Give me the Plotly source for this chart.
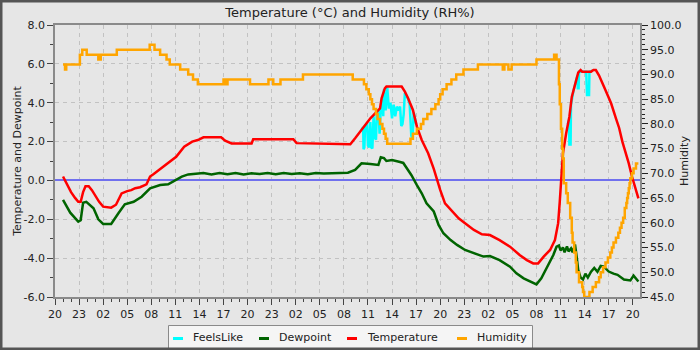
import plotly.graph_objects as go

# time axis: hours since 20:00 on day 1
tick_hours = list(range(0, 73, 3))
tick_labels = ["20", "23", "02", "05", "08", "11", "14", "17",
               "20", "23", "02", "05", "08", "11", "14", "17",
               "20", "23", "02", "05", "08", "11", "14", "17", "20"]

temp_t = [1.0, 1.5, 2.0, 2.5, 2.9, 3.2, 3.5, 3.8, 4.2, 4.6, 5.0, 5.5, 6.0, 7.0, 7.6, 8.0,
          8.3, 9.0, 9.5, 10.0, 10.6, 11.4, 11.85, 12.3, 13.0, 13.9, 15.1, 16.1, 17.1, 17.8,
          18.5, 20.7, 21.2, 22.0, 24.5, 24.7, 29.7, 30.1, 32.4, 36.8, 37.4, 38.0, 38.6,
          39.3, 39.9, 40.5, 40.7, 41.1, 41.3, 43.2, 43.6, 44.0, 44.6, 45.1, 45.7, 46.5,
          47.2, 47.6, 48.0, 48.6, 49.5, 50.3, 51.1, 52.2, 53.2, 54.2, 55.4, 56.7, 57.9,
          58.8, 59.6, 60.2, 60.9, 61.7, 62.3, 62.7, 62.9, 63.1, 63.3, 63.7, 64.1, 64.4,
          64.9, 65.2, 65.5, 65.7, 66.8, 67.1, 67.4, 67.8, 68.4, 69.3, 69.9, 70.3, 70.7,
          71.1, 71.5, 71.9, 72.3, 72.7]
temp_v = [0.2, -0.2, -0.6, -0.9, -1.1, -1.1, -0.6, -0.3, -0.3, -0.5, -0.8, -1.1, -1.35, -1.4, -1.25, -0.9,
          -0.67, -0.55, -0.5, -0.4, -0.35, -0.2, 0.2, 0.33, 0.55, 0.8, 1.22, 1.74, 2.0, 2.08,
          2.22, 2.22, 2.05, 1.9, 1.9, 2.12, 2.12, 1.92, 1.9, 1.86, 2.17, 2.51, 2.85,
          3.2, 3.45, 3.71, 4.23, 4.74, 4.83, 4.83, 4.57, 4.23, 3.63, 2.77, 2.08, 1.4,
          0.6, 0.0, -0.49, -1.18, -1.6, -1.95, -2.2, -2.55, -2.77, -2.81, -3.07, -3.41, -3.84,
          -4.1, -4.27, -4.27, -3.92, -3.58, -3.07, -2.2, -1.1, 0.2, 1.4, 2.43, 3.28, 4.3,
          5.17, 5.55, 5.68, 5.6, 5.6, 5.68, 5.68, 5.4, 4.83, 3.97, 3.2, 2.7, 2.0,
          1.48, 0.88, 0.2, -0.4, -0.92]

dew_t = [1.0, 1.9, 2.9, 3.2, 3.5, 3.9, 4.8, 5.4, 6.0, 7.0, 7.9, 8.7, 9.8, 10.8, 11.85,
         13.1, 14.1, 15.0, 15.8, 16.6, 17.5, 18.5, 19.5, 20.5, 21.5, 22.5, 23.5, 24.5,
         25.5, 26.5, 27.5, 28.5, 29.5, 30.5, 31.5, 32.5, 33.5, 34.5, 35.5, 36.5, 37.4,
         38.2, 39.3, 40.3, 40.6, 41.0, 41.3, 42.0, 43.0, 43.4, 43.8, 44.4, 45.1, 45.7,
         46.3, 47.2, 47.8, 48.4, 49.3, 50.1, 51.1, 52.2, 53.4, 54.2, 55.4, 56.7, 57.5,
         58.4, 59.2, 60.0, 60.6, 61.4, 62.1, 62.5, 62.8, 63.0, 63.3, 63.5, 63.8, 64.0,
         64.3, 64.5, 64.8, 65.0, 65.2, 65.5, 65.8, 66.1, 66.4, 66.8, 67.2, 67.6, 68.0,
         68.4, 69.0, 69.6, 70.1, 70.9, 71.7, 72.1, 72.7]
dew_v = [-1.0, -1.66, -2.12, -2.05, -1.15, -1.1, -1.43, -2.0, -2.24, -2.24, -1.69, -1.23, -1.1, -0.84, -0.41,
         -0.24, -0.2, 0.0, 0.2, 0.31, 0.33, 0.38, 0.3, 0.38, 0.32, 0.38, 0.3, 0.37,
         0.33, 0.38, 0.32, 0.38, 0.33, 0.37, 0.32, 0.38, 0.36, 0.38, 0.38, 0.4, 0.54,
         0.88, 0.85, 0.8, 1.19, 1.15, 1.0, 1.05, 0.95, 0.9, 0.65, 0.28, -0.24, -0.66,
         -1.18, -1.6, -2.29, -2.72, -3.07, -3.32, -3.58, -3.75, -3.92, -3.89, -4.1, -4.44, -4.78,
         -5.04, -5.21, -5.35, -5.04, -4.44, -3.84, -3.41, -3.35, -3.6, -3.45, -3.7, -3.4, -3.65,
         -3.5, -3.7, -3.3, -3.9, -4.6, -5.0, -5.1, -4.8, -5.0, -4.7, -4.5, -4.7, -4.4,
         -4.44, -4.69, -4.8, -4.86, -5.1, -5.15, -4.9, -5.2]

hum_t = [1.0, 1.25, 1.4, 3.1, 3.4, 3.95, 5.4, 5.7, 7.7, 11.8, 12.4, 13.1, 13.9, 14.3,
         15.6, 16.6, 17.2, 17.8, 21.0, 21.3, 21.5, 22.0, 24.3, 26.6, 27.2, 28.1, 30.9,
         37.1, 38.5, 38.8, 39.1, 39.3, 39.5, 39.7, 40.0, 40.2, 40.5, 40.8, 41.0, 41.2, 41.4,
         44.3, 44.6, 45.1, 45.6, 45.9, 46.4, 46.9, 47.4, 47.8, 48.0, 48.3, 48.8, 49.4, 50.0,
         50.9, 52.7, 55.8, 56.0, 56.5, 56.9, 60.0, 62.2, 62.5, 62.8, 62.9, 63.05, 63.2,
         63.3, 63.4, 63.7, 63.9, 64.2, 64.4, 64.5, 64.7, 64.9, 65.0, 65.3, 65.7, 65.8, 65.95,
         66.6, 67.0, 67.4, 67.8, 68.0, 68.3, 68.6, 68.9, 69.2, 69.4, 69.6, 69.9, 70.2, 70.4,
         70.6, 70.8, 71.0, 71.2, 71.3, 71.4, 71.5, 71.6, 71.7, 71.9, 72.1, 72.4, 72.7]
hum_v = [92, 91, 92, 94, 95, 94, 93, 94, 95, 96, 95, 94, 93, 92,
         91, 90, 89, 88, 89, 88, 89, 89, 88, 89, 88, 89, 90,
         89, 88, 87, 86, 85, 84, 83, 82, 81, 80, 79, 78, 77, 76,
         77, 78, 79, 80, 81, 82, 83, 84, 85, 86, 87, 88, 89, 90,
         91, 92, 91, 92, 91, 92, 93, 94, 93, 88, 84, 79, 75,
         73, 68, 66, 64, 61, 58, 56, 54, 52, 50, 48, 47, 46, 45,
         46, 47, 48, 49, 50, 51, 52, 53, 54, 55, 56, 57, 58, 59,
         60, 61, 63, 64, 65, 66, 67, 68, 69, 70, 71, 72, 72]

# FeelsLike where it departs from temperature (elsewhere identical, hidden under it)
feels_t = [38.2, 38.4, 38.45, 38.55, 38.65, 38.9, 39.0, 39.15, 39.3, 39.4, 39.55, 39.7,
           39.85, 40.0, 40.1, 40.3, 40.45, 40.6, 40.8, 40.9, 41.0, 41.2, 41.4, 41.6, 41.8,
           42.0, 42.2, 42.4, 42.6, 42.8, 43.0, 43.15, 43.3, 43.45, 43.6, 43.8, 44.0, 44.2,
           44.4, 44.55, 44.7, 45.0,
           None,
           63.9, 64.05, 64.1, 64.25, 64.3, 64.6, 65.1, 65.15, 65.25, 65.3, 66.2, 66.3,
           66.55, 66.6, 67.0]
feels_v = [2.6, 2.75, 1.6, 1.7, 2.8, 2.95, 1.8, 1.7, 3.0, 1.7, 1.65, 3.3,
           2.2, 2.1, 3.55, 3.6, 2.4, 3.7, 4.2, 3.3, 4.7, 3.6, 4.8, 3.7, 4.0,
           3.2, 3.9, 3.3, 3.8, 3.6, 3.8, 2.8, 2.9, 3.4, 4.5, 4.35, 4.2, 3.9,
           2.3, 2.1, 3.5, 2.9,
           None,
           2.9, 3.1, 1.85, 1.85, 3.9, 4.6, 5.4, 4.75, 4.75, 5.6, 5.6, 4.4,
           4.4, 5.6, 5.65]

left_ticks = [-6, -4, -2, 0, 2, 4, 6, 8]
left_labels = ["-6.0", "-4.0", "-2.0", "0.0", "2.0", "4.0", "6.0", "8.0"]
right_ticks = [45, 50, 55, 60, 65, 70, 75, 80, 85, 90, 95, 100]

series_names = ["FeelsLike", "Dewpoint", "Temperature", "Humidity"]
series_colors = ["#00ffff", "#006400", "#ff0000", "#ffa500"]

FONT = "DejaVu Sans"
TXT = "#222222"
GRID = "#c2c2c2"
AXIS = "#8a8a8a"

W, H = 700, 350
ml, mr, mt, mb = 55, 60, 25, 53
pw, ph = W - ml - mr, H - mt - mb


def px(x):
    return (x - ml) / pw


def py(y):
    return (H - mb - y) / ph


fig = go.Figure()
fig.add_trace(go.Scatter(x=feels_t, y=feels_v, name=series_names[0], mode="lines",
                         line=dict(color=series_colors[0], width=2.5), connectgaps=False))
fig.add_trace(go.Scatter(x=dew_t, y=dew_v, name=series_names[1], mode="lines",
                         line=dict(color=series_colors[1], width=2.5)))
fig.add_trace(go.Scatter(x=temp_t, y=temp_v, name=series_names[2], mode="lines",
                         line=dict(color=series_colors[2], width=2.5)))
fig.add_trace(go.Scatter(x=hum_t, y=hum_v, name=series_names[3], mode="lines", yaxis="y2",
                         line=dict(color=series_colors[3], width=2.5, shape="hv")))

# legend drawn as a box with short line keys
shapes = [dict(type="rect", xref="paper", yref="paper",
               x0=px(168.5), x1=px(532.5), y0=py(350), y1=py(325.5),
               line=dict(color="#8a8a8a", width=1), fillcolor="#f5f5f5", layer="above")]
annotations = []
key_x = [173, 259, 347, 457]
text_x = [193, 279, 367, 477]
for i, name in enumerate(series_names):
    shapes.append(dict(type="line", xref="paper", yref="paper",
                       x0=px(key_x[i]), x1=px(key_x[i] + 10), y0=py(338.5), y1=py(338.5),
                       line=dict(color=series_colors[i], width=3), layer="above"))
    annotations.append(dict(text=name, xref="paper", yref="paper", x=px(text_x[i] - 1),
                            y=py(337.5), xanchor="left", yanchor="middle", showarrow=False,
                            font=dict(size=11, color=TXT, family=FONT), borderpad=0))
# outer frame
shapes.append(dict(type="rect", xref="paper", yref="paper",
                   x0=px(0), x1=px(W), y0=py(H), y1=py(0),
                   line=dict(color="#555555", width=5), fillcolor="rgba(0,0,0,0)", layer="above"))

fig.update_layout(
    width=W, height=H,
    margin=dict(l=ml, r=mr, t=mt, b=mb, pad=0, autoexpand=False),
    paper_bgcolor="#e6e6e6", plot_bgcolor="#e6e6e6",
    font=dict(family=FONT, size=11, color=TXT),
    title=dict(text="Temperature (°C) and Humidity (RH%)", x=0.5, xanchor="center",
               y=1 - 12 / H, yanchor="middle", font=dict(size=13, color=TXT)),
    showlegend=False,
    xaxis=dict(range=[0, 72.9], tickmode="array", tickvals=tick_hours, ticktext=tick_labels,
               showgrid=True, gridcolor=GRID, griddash="4px,4px", gridwidth=1,
               showline=True, linecolor=AXIS, linewidth=1.5, mirror=True,
               ticks="outside", ticklen=6, tickcolor="#444", zeroline=False, automargin=False,
               minor=dict(tickmode="linear", tick0=0, dtick=1, ticks="outside",
                          ticklen=3, tickcolor="#444", showgrid=False),
               tickfont=dict(size=11)),
    yaxis=dict(range=[-6, 8], tickmode="array", tickvals=left_ticks, ticktext=left_labels,
               showgrid=True, gridcolor=GRID, griddash="4px,4px", gridwidth=1,
               showline=True, linecolor=AXIS, linewidth=1.5, mirror=True,
               ticks="outside", ticklen=6, tickcolor="#444", automargin=False,
               zeroline=True, zerolinecolor="#7070ee", zerolinewidth=2,
               minor=dict(tickmode="linear", tick0=0, dtick=1, ticks="outside",
                          ticklen=3, tickcolor="#444", showgrid=False),
               title=dict(text="Temperature and Dewpoint", font=dict(size=11), standoff=0)),
    yaxis2=dict(range=[45, 100], overlaying="y", side="right", tickmode="array",
                tickvals=right_ticks, tickformat=".1f", showgrid=False, zeroline=False,
                showline=True, linecolor=AXIS, linewidth=1.5, automargin=False,
                ticks="outside", ticklen=6, tickcolor="#222",
                minor=dict(tickmode="linear", tick0=45, dtick=1, ticks="outside",
                           ticklen=3, tickcolor="#222", showgrid=False),
                title=dict(text="Humidity", font=dict(size=11), standoff=0)),
    shapes=shapes,
    annotations=annotations,
)

fig.write_html("out.html")
